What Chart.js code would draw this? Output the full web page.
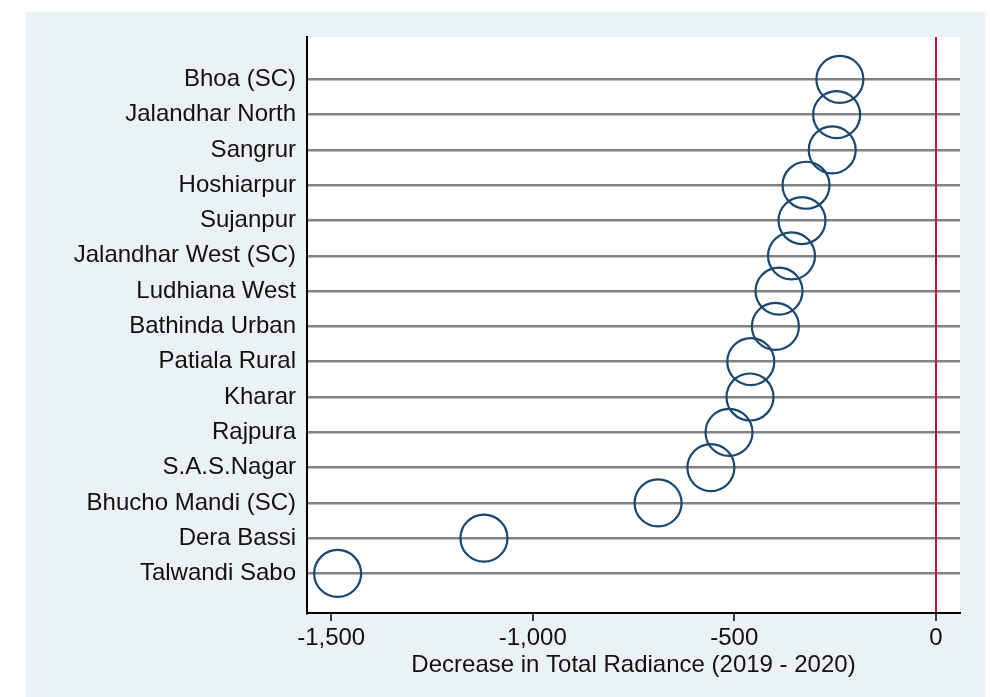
<!DOCTYPE html>
<html>
<head>
<meta charset="utf-8">
<title>Decrease in Total Radiance</title>
<script src="https://cdn.jsdelivr.net/npm/chart.js@4.4.0/dist/chart.umd.min.js"></script>
<style>
    html, body { margin: 0; padding: 0; background: #fff; }
    #wrap { width: 990px; height: 697px; }
</style>
</head>
<body>
<div id="wrap"><canvas id="radianceChart" width="990" height="697"></canvas></div>
<script>
// --- DATA ---
const constituencies = [
    'Bhoa (SC)', 'Jalandhar North', 'Sangrur', 'Hoshiarpur', 'Sujanpur',
    'Jalandhar West (SC)', 'Ludhiana West', 'Bathinda Urban', 'Patiala Rural',
    'Kharar', 'Rajpura', 'S.A.S.Nagar', 'Bhucho Mandi (SC)', 'Dera Bassi', 'Talwandi Sabo'
];
const radianceChange = [
    -238, -246, -257, -322, -332,
    -358, -389, -398, -459,
    -461, -513, -558, -689, -1121, -1484
];
const xTickValues = [-1500, -1000, -500, 0];
const xTitle = 'Decrease in Total Radiance (2019 - 2020)';

const FONT = '"Liberation Sans", Arial, Helvetica, sans-serif';
const NAVY = '#1a476f';

// paints the outer light panel and the white plot area
const backdrop = {
    id: 'backdrop',
    beforeDraw(chart) {
        const { ctx, chartArea: a } = chart;
        ctx.save();
        ctx.fillStyle = '#eaf2f3';
        ctx.fillRect(26, 12, 959, 685);
        ctx.fillStyle = '#ffffff';
        ctx.fillRect(a.left, a.top, a.right - a.left, a.bottom - a.top);
        ctx.restore();
    }
};

const points = radianceChange.map((v, i) => ({ x: v, y: i }));

new Chart(document.getElementById('radianceChart'), {
    type: 'scatter',
    data: {
        datasets: [{
            data: points,
            pointRadius: 23.5,
            pointHoverRadius: 23.5,
            pointBorderWidth: 2.2,
            borderColor: NAVY,
            backgroundColor: 'rgba(0,0,0,0)',
            showLine: false,
            clip: false
        }]
    },
    options: {
        responsive: false,
        animation: false,
        events: [],
        layout: { padding: { left: 0, top: 37, right: 30, bottom: 0 } },
        plugins: {
            legend: { display: false },
            tooltip: { enabled: false }
        },
        scales: {
            y: {
                type: 'linear',
                reverse: true,
                min: -1.2,
                max: constituencies.length - 1 + 1.12,
                afterBuildTicks: (s) => { s.ticks = constituencies.map((c, i) => ({ value: i })); },
                afterFit: (s) => { s.width = 307; },
                ticks: {
                    callback: (v) => constituencies[v],
                    font: { family: FONT, size: 24 },
                    color: '#111',
                    padding: 11,
                    autoSkip: false
                },
                grid: { color: '#828282', lineWidth: 2.6, drawTicks: false },
                border: { display: true, color: '#000', width: 2 }
            },
            x: {
                type: 'linear',
                min: -1560,
                max: 60,
                z: 1,
                afterBuildTicks: (s) => { s.ticks = xTickValues.map(v => ({ value: v })); },
                afterFit: (s) => { s.height = 84; },
                ticks: {
                    callback: (v) => v.toLocaleString('en-US'),
                    font: { family: FONT, size: 24 },
                    color: '#111',
                    padding: 3,
                    maxRotation: 0
                },
                grid: {
                    color: (c) => (c.tick && c.tick.value === 0) ? '#c8102e' : 'rgba(0,0,0,0)',
                    lineWidth: 2,
                    tickColor: '#000',
                    tickWidth: 1.5,
                    tickLength: 8
                },
                border: { display: true, color: '#000', width: 2 },
                title: {
                    display: true,
                    text: xTitle,
                    font: { family: FONT, size: 24 },
                    color: '#111',
                    padding: { top: 0, bottom: 17 }
                }
            }
        }
    },
    plugins: [backdrop]
});
</script>
</body>
</html>
